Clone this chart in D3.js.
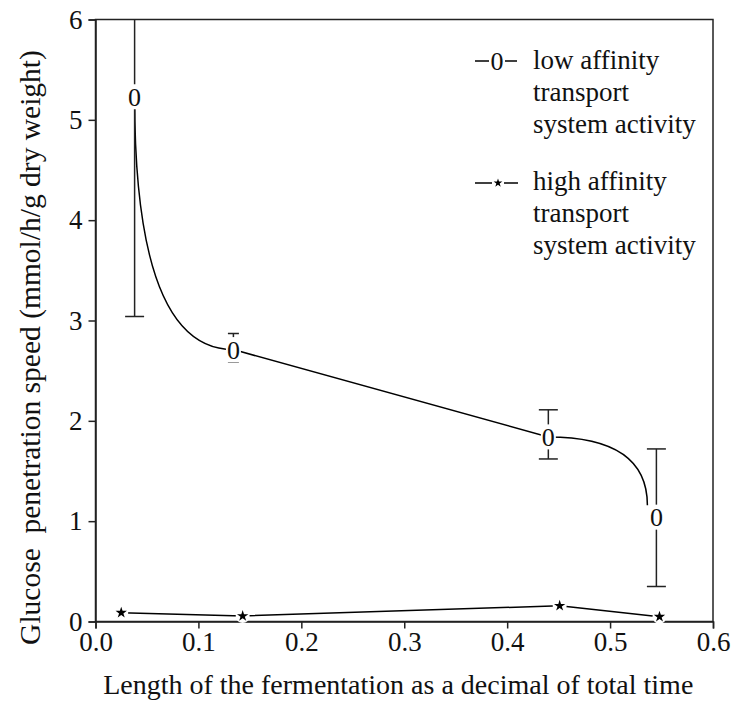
<!DOCTYPE html>
<html>
<head>
<meta charset="utf-8">
<script src="https://cdn.jsdelivr.net/npm/d3@7"></script>
<style>
  body { margin: 0; background: #fff; }
  text { font-family: "Liberation Serif", "Times New Roman", serif; fill: #111; }
</style>
</head>
<body>
<div class="chart"></div>
<script>
// low affinity transport (marker "0"), with error bars
const lowX = [0.038, 0.134, 0.44, 0.545]
const lowY = [5.23, 2.71, 1.84, 1.04]
const lowLower = [3.04, 2.59, 1.62, 0.35]
const lowUpper = [7.42, 2.87, 2.11, 1.72]

// high affinity transport (star marker)
const highX = [0.025, 0.143, 0.451, 0.548]
const highY = [0.088, 0.055, 0.157, 0.048]

const xTicks = [0, 0.1, 0.2, 0.3, 0.4, 0.5, 0.6]
const yTicks = [0, 1, 2, 3, 4, 5, 6]

const legendLow = ["low affinity", "transport", "system activity"]
const legendHigh = ["high affinity", "transport", "system activity"]

const serif = "'Liberation Serif', 'Times New Roman', serif"

const margin = {top: 19.5, right: 28, bottom: 80.5, left: 95.5},
    width = 741 - margin.left - margin.right,
    height = 702 - margin.top - margin.bottom

const x = d3.scaleLinear().domain([0, 0.6]).range([0, width])
const y = d3.scaleLinear().domain([0, 6]).range([height, 0])

const svg = d3.select(".chart").append("svg")
    .attr("width", 741)
    .attr("height", 702)
  .append("g")
    .attr("transform", "translate(" + margin.left + "," + margin.top + ")")

svg.append("clipPath").attr("id", "plot")
  .append("rect").attr("width", width).attr("height", height)

// frame
svg.append("rect")
    .attr("width", width).attr("height", height)
    .attr("fill", "none").attr("stroke", "#222").attr("stroke-width", 1.5)

// axes
svg.append("g")
    .attr("transform", "translate(0," + height + ")")
    .call(d3.axisBottom(x).tickValues(xTicks).tickFormat(d3.format(".1f")).tickSize(7).tickPadding(3))
svg.append("g")
    .call(d3.axisLeft(y).tickValues(yTicks).tickFormat(d3.format("d")).tickSize(7).tickPadding(6))

svg.selectAll(".domain").attr("stroke", "#222").attr("stroke-width", 1.5)
svg.selectAll(".tick line").attr("stroke", "#222").attr("stroke-width", 1.5)
svg.selectAll(".tick text")
    .style("font-family", serif)
    .style("font-size", "27px")
    .attr("fill", "#111")

// axis titles
svg.append("text")
    .attr("x", width / 2 - 6)
    .attr("y", height + 72)
    .attr("text-anchor", "middle")
    .style("font-family", serif)
    .style("font-size", "28px")
    .text("Length of the fermentation as a decimal of total time")

svg.append("text")
    .attr("transform", "rotate(-90)")
    .attr("x", -(height / 2) - 27)
    .attr("y", -56)
    .attr("text-anchor", "middle")
    .style("font-family", serif)
    .style("font-size", "29.5px")
    .style("white-space", "pre")
    .text("Glucose  penetration speed (mmol/h/g dry weight)")

const low = lowX.map((d, i) => ({x: d, y: lowY[i], lo: lowLower[i], hi: lowUpper[i]}))
const high = highX.map((d, i) => ({x: d, y: highY[i]}))

// low affinity curve: steep fall, straight middle, then bending down
const p = low.map(d => [x(d.x), y(d.y)])
const path = d3.path()
path.moveTo(p[0][0], p[0][1])
path.quadraticCurveTo(p[0][0], p[1][1], p[1][0], p[1][1])
path.lineTo(p[2][0], p[2][1])
path.quadraticCurveTo(p[3][0] - 9, p[2][1], p[3][0] - 9, p[3][1] - 12)

const plot = svg.append("g").attr("clip-path", "url(#plot)")

plot.append("path")
    .attr("d", path.toString())
    .attr("fill", "none")
    .attr("stroke", "#000")
    .attr("stroke-width", 1.5)

// error bars
const err = plot.selectAll(".err")
    .data(low)
    .enter().append("g")
    .attr("class", "err")
    .attr("stroke", "#222")
    .attr("stroke-width", 1.5)

err.append("line")
    .attr("x1", d => x(d.x)).attr("x2", d => x(d.x))
    .attr("y1", d => y(d.hi)).attr("y2", d => y(d.lo))

// short bars get narrow caps that hug the marker
const capW = d => (y(d.lo) - y(d.hi) < 40 ? 5.5 : 9.5)
err.selectAll(".cap")
    .data(d => [{x: d.x, v: d.hi, w: capW(d)}, {x: d.x, v: d.lo, w: capW(d)}])
    .enter().append("line")
    .attr("x1", d => x(d.x) - d.w).attr("x2", d => x(d.x) + d.w)
    .attr("y1", d => y(d.v)).attr("y2", d => y(d.v))

// "0" markers on white
const mark = svg.selectAll(".mark")
    .data(low)
    .enter().append("g")
    .attr("transform", d => "translate(" + x(d.x) + "," + y(d.y) + ")")
mark.append("rect")
    .attr("x", -7.5).attr("y", -12.5).attr("width", 15).attr("height", 25)
    .attr("fill", "#fff")
mark.append("text")
    .attr("text-anchor", "middle")
    .attr("dy", "0.35em")
    .style("font-family", serif)
    .style("font-size", "26px")
    .text("0")

// high affinity line with stars
const line = d3.line().x(d => x(d.x)).y(d => y(d.y))
svg.append("path")
    .datum(high)
    .attr("d", line)
    .attr("fill", "none")
    .attr("stroke", "#000")
    .attr("stroke-width", 1.5)

const star = d3.symbol().type(d3.symbolStar).size(40)
const stars = svg.selectAll(".star")
    .data(high)
    .enter().append("g")
    .attr("transform", d => "translate(" + x(d.x) + "," + y(d.y) + ")")
stars.append("circle").attr("r", 7).attr("fill", "#fff")
stars.append("path").attr("d", star).attr("fill", "#000")

// legend
const legend = svg.append("g").attr("transform", "translate(" + (533 - margin.left) + ",0)")

legend.selectAll(".l1")
    .data(legendLow)
    .enter().append("text")
    .attr("y", (d, i) => 69 - margin.top + i * 32)
    .style("font-family", serif)
    .style("font-size", "27px")
    .text(d => d)

legend.selectAll(".l2")
    .data(legendHigh)
    .enter().append("text")
    .attr("y", (d, i) => 190 - margin.top + i * 32)
    .style("font-family", serif)
    .style("font-size", "27px")
    .text(d => d)

// legend keys
const keyLow = legend.append("g").attr("transform", "translate(-36," + (61 - margin.top) + ")")
keyLow.append("line").attr("x1", -22).attr("x2", 20).attr("stroke", "#000").attr("stroke-width", 1.5)
keyLow.append("rect").attr("x", -8).attr("y", -12).attr("width", 16).attr("height", 24).attr("fill", "#fff")
keyLow.append("text").attr("text-anchor", "middle").attr("dy", "0.35em")
    .style("font-family", serif).style("font-size", "26px").text("0")

const keyHigh = legend.append("g").attr("transform", "translate(-35," + (183 - margin.top) + ")")
keyHigh.append("line").attr("x1", -23).attr("x2", -6).attr("stroke", "#000").attr("stroke-width", 1.5)
keyHigh.append("line").attr("x1", 6).attr("x2", 20).attr("stroke", "#000").attr("stroke-width", 1.5)
keyHigh.append("path").attr("d", d3.symbol().type(d3.symbolStar).size(24)).attr("fill", "#000")
</script>
</body>
</html>
